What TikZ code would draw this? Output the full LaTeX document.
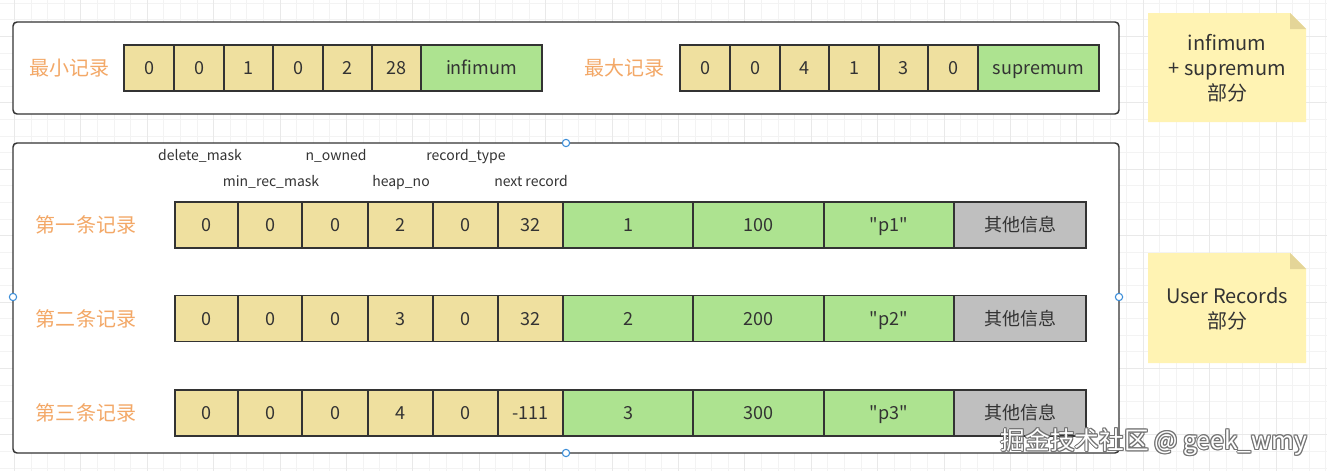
\documentclass[tikz,border=0pt]{standalone}
\usepackage{fontspec}
\setmainfont{Noto Sans CJK SC}
\definecolor{cellyellow}{HTML}{EFE09F}
\definecolor{cellgreen}{HTML}{ADE390}
\definecolor{cellgray}{HTML}{BFBFBF}
\definecolor{labelorange}{HTML}{F3A867}
\definecolor{notefill}{HTML}{FFF3B3}
\definecolor{notefold}{HTML}{E4D598}
\definecolor{linec}{HTML}{333333}
\definecolor{textc}{HTML}{333333}
\definecolor{gridminor}{HTML}{F3F3F3}
\definecolor{gridmajor}{HTML}{E9E9E9}
\definecolor{handlec}{HTML}{3B8DD8}
\tikzset{
  cell/.style={draw=linec, line width=1.1pt, minimum height=34.5pt, inner sep=0pt, outer sep=0pt,
    text=textc, font=\fontsize{13.5}{16}\selectfont, text height=9.8pt, text depth=0pt},
  container/.style={draw=linec, line width=1.1pt, fill=white, rounded corners=3pt, inner sep=0pt},
  rowlabel/.style={text=labelorange, font=\fontsize{15}{18}\selectfont, inner sep=0pt},
  fieldlabel/.style={text=textc, font=\fontsize{10.5}{13}\selectfont, inner sep=0pt, text height=7.6pt, text depth=0pt},
  notetext/.style={text=textc, font=\fontsize{15}{18.75}\selectfont, align=center, inner sep=0pt},
  handle/.style={draw=handlec, fill=white, line width=0.8pt, circle, inner sep=0pt, minimum size=5.5pt},
  wmtext/.style={font=\fontsize{18.5}{20}\selectfont, inner sep=0pt},
}
\begin{document}
\begin{tikzpicture}[x=0.75pt,y=-0.75pt]
\useasboundingbox (0,0) rectangle (1327,471);
\clip (0,0) rectangle (1327,471);
\fill[white] (0,0) rectangle (1327,471);
% background grid
\foreach \i in {0,...,81} \draw[gridminor, line width=0.75pt] ({-2.1+16.6*\i},0) -- ({-2.1+16.6*\i},471);
\foreach \i in {0,...,29} \draw[gridminor, line width=0.75pt] (0,{3.3+16.6*\i}) -- (1327,{3.3+16.6*\i});
\foreach \k in {0,...,20} \draw[gridmajor, line width=0.75pt] ({14.5+66.4*\k},0) -- ({14.5+66.4*\k},471);
\foreach \k in {0,...,7} \draw[gridmajor, line width=0.75pt] (0,{36.5+66.4*\k}) -- (1327,{36.5+66.4*\k});

% containers
\node[container, minimum width=829.5pt, minimum height=69pt] (topbox) at (566,68) {};
\node[container, minimum width=829.5pt, minimum height=232.5pt] (botbox) at (566,298) {};

% top: infimum record
\node[rowlabel] (minlabel) at (69,68) {最小记录};
\foreach \a/\b/\t/\c [count=\k] in {124/174/0/cellyellow,174/224/0/cellyellow,224/273/1/cellyellow,273/323/0/cellyellow,323/372/2/cellyellow,372/421/28/cellyellow,421/542/infimum/cellgreen}
  \node[cell, fill=\c, minimum width={(\b-\a)*0.75pt}] (inf\k) at ({(\a+\b)/2},68) {\t};
% top: supremum record
\node[rowlabel] (maxlabel) at (624,68) {最大记录};
\foreach \a/\b/\t/\c [count=\k] in {680/730/0/cellyellow,730/780/0/cellyellow,780/829/4/cellyellow,829/879/1/cellyellow,879/928/3/cellyellow,928/978/0/cellyellow,978/1099/supremum/cellgreen}
  \node[cell, fill=\c, minimum width={(\b-\a)*0.75pt}] (sup\k) at ({(\a+\b)/2},68) {\t};

% field labels
\node[fieldlabel] (fdel) at (200,155) {delete\_mask};
\node[fieldlabel] (fown) at (336,155) {n\_owned};
\node[fieldlabel] (ftype) at (466,155) {record\_type};
\node[fieldlabel] (fmin) at (271,181) {min\_rec\_mask};
\node[fieldlabel] (fheap) at (401,181) {heap\_no};
\node[fieldlabel] (fnext) at (531,181) {next record};

% user records
\node[rowlabel] (lab1) at (86,225) {第一条记录};
\node[rowlabel] (lab2) at (86,318.5) {第二条记录};
\node[rowlabel] (lab3) at (86,413) {第三条记录};
\foreach \r/\y/\v/\h/\n/\id/\num/\s in {1/225/2/32/1/100/p1/1, 2/318.5/3/32/2/200/p2/2, 3/413/4/-111/3/300/p3/3}{
  \foreach \a/\b/\t/\c [count=\k] in {175/238/0/cellyellow,238/302/0/cellyellow,302/368/0/cellyellow,368/433/\v/cellyellow,433/498/0/cellyellow,498/563/\h/cellyellow,563/693/\n/cellgreen,693/824/\id/cellgreen,824/954/\textquotedbl\num\textquotedbl/cellgreen,954/1086/其他信息/cellgray}
    \node[cell, fill=\c, minimum width={(\b-\a)*0.75pt}] (rec\r c\k) at ({(\a+\b)/2},\y) {\t};
}

% notes
\fill[notefill] (1148,13) -- (1290,13) -- (1306,29) -- (1306,122) -- (1148,122) -- cycle;
\fill[notefold] (1290,13) -- (1306,29) -- (1290,29) -- cycle;
\node[notetext] (note1) at (1227,68) {infimum\\+\hspace{0.25em}supremum\\部分};
\fill[notefill] (1148,253) -- (1290,253) -- (1306,269) -- (1306,363) -- (1148,363) -- cycle;
\fill[notefold] (1290,253) -- (1306,269) -- (1290,269) -- cycle;
\node[notetext] (note2) at (1227,309) {User Records\\部分};

% selection handles
\node[handle] (h1) at (566,143) {};
\node[handle] (h2) at (13,297) {};
\node[handle] (h3) at (1119,297) {};
\node[handle] (h4) at (566,453) {};

% watermark
\foreach \dx/\dy [count=\k] in {-1/0,1/0,0/-1,0/1,-0.8/-0.8,0.8/0.8,0.8/-0.8,-0.8/0.8}
  \node[wmtext, text=black!55] (wms\k) at ({1154+\dx},{442+\dy}) {掘金技术社区 @ geek\_wmy};
\node[wmtext, text=white] (wm) at (1154,442) {掘金技术社区 @ geek\_wmy};
\end{tikzpicture}
\end{document}
